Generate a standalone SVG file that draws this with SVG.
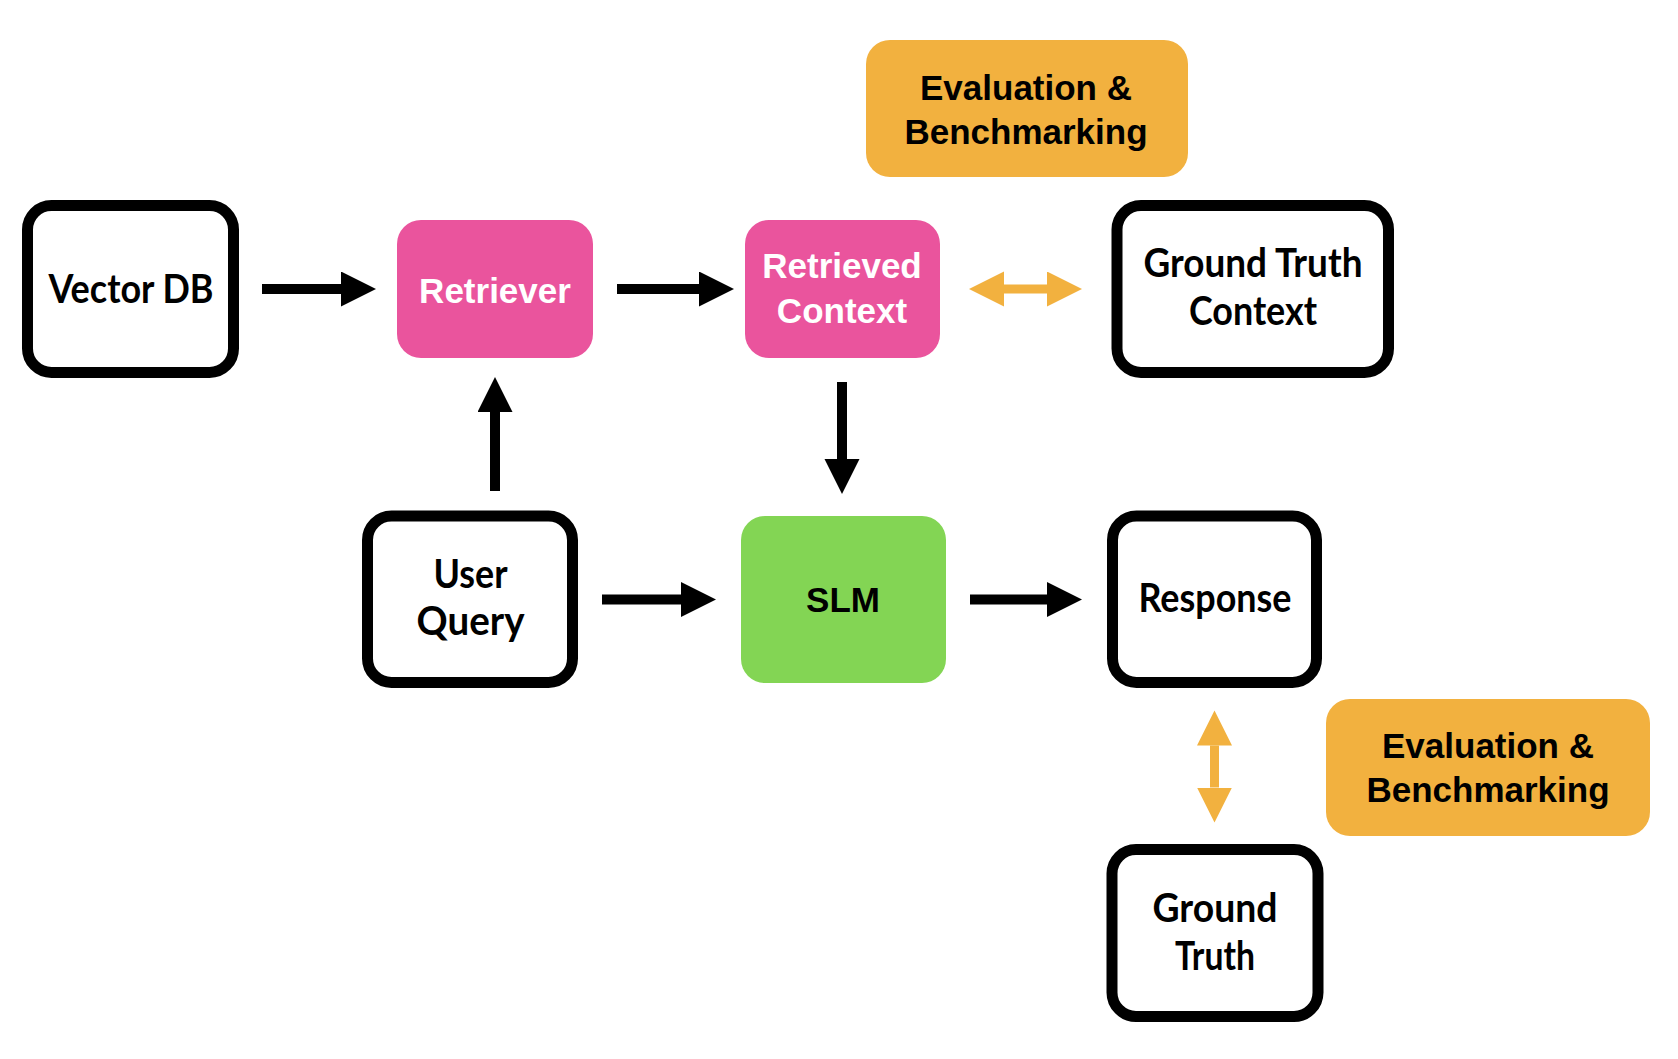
<svg xmlns="http://www.w3.org/2000/svg" width="1678" height="1059" viewBox="0 0 1678 1059">
<style>
.box{fill:#fff;stroke:#000;stroke-width:11}
.pink{fill:#EA549D}
.green{fill:#83D554}
.orange{fill:#F2B13F}
.fut{font-family:Lato,"Noto Sans","DejaVu Sans",sans-serif;font-size:40px;font-weight:bold;fill:#000;text-anchor:middle}
.ar{font-family:"Liberation Sans",Arial,sans-serif;font-size:35px;font-weight:bold;text-anchor:middle}
.w{fill:#fff}
.k{fill:#000}
.blk{stroke:#000;stroke-width:10;fill:none}
.org{stroke:#F2B13F;stroke-width:9;fill:none}
</style>
<defs>
<marker id="hb" markerUnits="userSpaceOnUse" markerWidth="36" markerHeight="36" refX="0" refY="17.5" orient="auto" viewBox="0 0 36 36"><path d="M0,0 L35,17.5 L0,35 Z" fill="#000"/></marker>
<marker id="ho" markerUnits="userSpaceOnUse" markerWidth="36" markerHeight="36" refX="0" refY="17.5" orient="auto-start-reverse" viewBox="0 0 36 36"><path d="M0,0 L35,17.5 L0,35 Z" fill="#F2B13F"/></marker>
</defs>
<rect width="1678" height="1059" fill="#fff"/>
<g id="connectors">
<line class="blk" x1="262" y1="289" x2="341" y2="289" marker-end="url(#hb)"/>
<line class="blk" x1="617" y1="289" x2="699" y2="289" marker-end="url(#hb)"/>
<line class="org" x1="1004" y1="289" x2="1047" y2="289" marker-start="url(#ho)" marker-end="url(#ho)"/>
<line class="blk" x1="842" y1="382" x2="842" y2="459" marker-end="url(#hb)"/>
<line class="blk" x1="495" y1="491" x2="495" y2="412" marker-end="url(#hb)"/>
<line class="blk" x1="602" y1="599.5" x2="681" y2="599.5" marker-end="url(#hb)"/>
<line class="blk" x1="970" y1="599.5" x2="1047" y2="599.5" marker-end="url(#hb)"/>
<line class="org" x1="1214.5" y1="745.5" x2="1214.5" y2="787.5" marker-start="url(#ho)" marker-end="url(#ho)"/>
</g>
<g id="vector-db">
<rect class="box" x="27.5" y="205.5" width="206" height="167" rx="24"/>
<text class="fut" x="131" y="303" textLength="165" lengthAdjust="spacingAndGlyphs">Vector DB</text>
</g>
<g id="retriever">
<rect class="pink" x="397" y="220" width="196" height="138" rx="24"/>
<text class="ar w" x="495" y="303">Retriever</text>
</g>
<g id="retrieved-context">
<rect class="pink" x="745" y="220" width="195" height="138" rx="24"/>
<text class="ar w" x="842" y="278">Retrieved</text>
<text class="ar w" x="842" y="323">Context</text>
</g>
<g id="eval-top">
<rect class="orange" x="866" y="40" width="322" height="137" rx="24"/>
<text class="ar k" x="1026" y="100">Evaluation &amp;</text>
<text class="ar k" x="1026" y="144">Benchmarking</text>
</g>
<g id="ground-truth-context">
<rect class="box" x="1117" y="205.5" width="271.5" height="167" rx="24"/>
<text class="fut" x="1253" y="277" textLength="219" lengthAdjust="spacingAndGlyphs">Ground Truth</text>
<text class="fut" x="1253" y="325" textLength="128" lengthAdjust="spacingAndGlyphs">Context</text>
</g>
<g id="user-query">
<rect class="box" x="367.5" y="516" width="205" height="166.5" rx="24"/>
<text class="fut" x="470.5" y="588" textLength="74" lengthAdjust="spacingAndGlyphs">User</text>
<text class="fut" x="470.5" y="635" textLength="108" lengthAdjust="spacingAndGlyphs">Query</text>
</g>
<g id="slm">
<rect class="green" x="741" y="516" width="205" height="167" rx="24"/>
<text class="ar k" x="843" y="612">SLM</text>
</g>
<g id="response">
<rect class="box" x="1112.5" y="516" width="204" height="166.5" rx="24"/>
<text class="fut" x="1215" y="612" textLength="153" lengthAdjust="spacingAndGlyphs">Response</text>
</g>
<g id="ground-truth">
<rect class="box" x="1112" y="849.5" width="206" height="167" rx="24"/>
<text class="fut" x="1215" y="922" textLength="125" lengthAdjust="spacingAndGlyphs">Ground</text>
<text class="fut" x="1215" y="970" textLength="80" lengthAdjust="spacingAndGlyphs">Truth</text>
</g>
<g id="eval-bottom">
<rect class="orange" x="1326" y="699" width="324" height="137" rx="24"/>
<text class="ar k" x="1488" y="758">Evaluation &amp;</text>
<text class="ar k" x="1488" y="802">Benchmarking</text>
</g>
</svg>
